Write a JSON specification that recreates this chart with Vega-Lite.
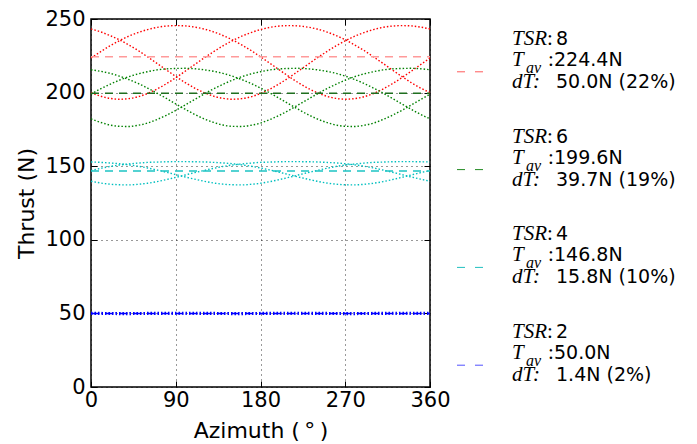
{
"$schema":"https://vega.github.io/schema/vega-lite/v6.json",
"background":"white",
"padding":{"left":15,"top":7,"right":5,"bottom":0},
"bounds":"flush",
"spacing":0,
"datasets":{
"curves":[
{"tsr":8,"blade":1,"az":0,"thrust":223.5},{"tsr":8,"blade":1,"az":10,"thrust":227.7},{"tsr":8,"blade":1,"az":20,"thrust":231.7},{"tsr":8,"blade":1,"az":30,"thrust":235.2},{"tsr":8,"blade":1,"az":40,"thrust":238.3},{"tsr":8,"blade":1,"az":50,"thrust":240.8},{"tsr":8,"blade":1,"az":60,"thrust":242.8},{"tsr":8,"blade":1,"az":70,"thrust":244.3},{"tsr":8,"blade":1,"az":80,"thrust":245.2},{"tsr":8,"blade":1,"az":90,"thrust":245.5},{"tsr":8,"blade":1,"az":100,"thrust":245.3},{"tsr":8,"blade":1,"az":110,"thrust":244.5},{"tsr":8,"blade":1,"az":120,"thrust":243.2},{"tsr":8,"blade":1,"az":130,"thrust":241.3},{"tsr":8,"blade":1,"az":140,"thrust":238.8},{"tsr":8,"blade":1,"az":150,"thrust":235.9},{"tsr":8,"blade":1,"az":160,"thrust":232.4},{"tsr":8,"blade":1,"az":170,"thrust":228.6},{"tsr":8,"blade":1,"az":180,"thrust":224.3},{"tsr":8,"blade":1,"az":190,"thrust":219.9},{"tsr":8,"blade":1,"az":200,"thrust":215.4},{"tsr":8,"blade":1,"az":210,"thrust":211.0},{"tsr":8,"blade":1,"az":220,"thrust":206.8},{"tsr":8,"blade":1,"az":230,"thrust":203.1},{"tsr":8,"blade":1,"az":240,"thrust":200.0},{"tsr":8,"blade":1,"az":250,"thrust":197.6},{"tsr":8,"blade":1,"az":260,"thrust":196.1},{"tsr":8,"blade":1,"az":270,"thrust":195.5},{"tsr":8,"blade":1,"az":280,"thrust":195.9},{"tsr":8,"blade":1,"az":290,"thrust":197.2},{"tsr":8,"blade":1,"az":300,"thrust":199.4},{"tsr":8,"blade":1,"az":310,"thrust":202.4},{"tsr":8,"blade":1,"az":320,"thrust":206.0},{"tsr":8,"blade":1,"az":330,"thrust":210.1},{"tsr":8,"blade":1,"az":340,"thrust":214.5},{"tsr":8,"blade":1,"az":350,"thrust":219.0},{"tsr":8,"blade":1,"az":360,"thrust":223.5},
{"tsr":8,"blade":2,"az":0,"thrust":200.0},{"tsr":8,"blade":2,"az":10,"thrust":197.6},{"tsr":8,"blade":2,"az":20,"thrust":196.1},{"tsr":8,"blade":2,"az":30,"thrust":195.5},{"tsr":8,"blade":2,"az":40,"thrust":195.9},{"tsr":8,"blade":2,"az":50,"thrust":197.2},{"tsr":8,"blade":2,"az":60,"thrust":199.4},{"tsr":8,"blade":2,"az":70,"thrust":202.4},{"tsr":8,"blade":2,"az":80,"thrust":206.0},{"tsr":8,"blade":2,"az":90,"thrust":210.1},{"tsr":8,"blade":2,"az":100,"thrust":214.5},{"tsr":8,"blade":2,"az":110,"thrust":219.0},{"tsr":8,"blade":2,"az":120,"thrust":223.5},{"tsr":8,"blade":2,"az":130,"thrust":227.7},{"tsr":8,"blade":2,"az":140,"thrust":231.7},{"tsr":8,"blade":2,"az":150,"thrust":235.2},{"tsr":8,"blade":2,"az":160,"thrust":238.3},{"tsr":8,"blade":2,"az":170,"thrust":240.8},{"tsr":8,"blade":2,"az":180,"thrust":242.8},{"tsr":8,"blade":2,"az":190,"thrust":244.3},{"tsr":8,"blade":2,"az":200,"thrust":245.2},{"tsr":8,"blade":2,"az":210,"thrust":245.5},{"tsr":8,"blade":2,"az":220,"thrust":245.3},{"tsr":8,"blade":2,"az":230,"thrust":244.5},{"tsr":8,"blade":2,"az":240,"thrust":243.2},{"tsr":8,"blade":2,"az":250,"thrust":241.3},{"tsr":8,"blade":2,"az":260,"thrust":238.8},{"tsr":8,"blade":2,"az":270,"thrust":235.9},{"tsr":8,"blade":2,"az":280,"thrust":232.4},{"tsr":8,"blade":2,"az":290,"thrust":228.6},{"tsr":8,"blade":2,"az":300,"thrust":224.3},{"tsr":8,"blade":2,"az":310,"thrust":219.9},{"tsr":8,"blade":2,"az":320,"thrust":215.4},{"tsr":8,"blade":2,"az":330,"thrust":211.0},{"tsr":8,"blade":2,"az":340,"thrust":206.8},{"tsr":8,"blade":2,"az":350,"thrust":203.1},{"tsr":8,"blade":2,"az":360,"thrust":200.0},
{"tsr":8,"blade":3,"az":0,"thrust":243.2},{"tsr":8,"blade":3,"az":10,"thrust":241.3},{"tsr":8,"blade":3,"az":20,"thrust":238.8},{"tsr":8,"blade":3,"az":30,"thrust":235.9},{"tsr":8,"blade":3,"az":40,"thrust":232.4},{"tsr":8,"blade":3,"az":50,"thrust":228.6},{"tsr":8,"blade":3,"az":60,"thrust":224.3},{"tsr":8,"blade":3,"az":70,"thrust":219.9},{"tsr":8,"blade":3,"az":80,"thrust":215.4},{"tsr":8,"blade":3,"az":90,"thrust":211.0},{"tsr":8,"blade":3,"az":100,"thrust":206.8},{"tsr":8,"blade":3,"az":110,"thrust":203.1},{"tsr":8,"blade":3,"az":120,"thrust":200.0},{"tsr":8,"blade":3,"az":130,"thrust":197.6},{"tsr":8,"blade":3,"az":140,"thrust":196.1},{"tsr":8,"blade":3,"az":150,"thrust":195.5},{"tsr":8,"blade":3,"az":160,"thrust":195.9},{"tsr":8,"blade":3,"az":170,"thrust":197.2},{"tsr":8,"blade":3,"az":180,"thrust":199.4},{"tsr":8,"blade":3,"az":190,"thrust":202.4},{"tsr":8,"blade":3,"az":200,"thrust":206.0},{"tsr":8,"blade":3,"az":210,"thrust":210.1},{"tsr":8,"blade":3,"az":220,"thrust":214.5},{"tsr":8,"blade":3,"az":230,"thrust":219.0},{"tsr":8,"blade":3,"az":240,"thrust":223.5},{"tsr":8,"blade":3,"az":250,"thrust":227.7},{"tsr":8,"blade":3,"az":260,"thrust":231.7},{"tsr":8,"blade":3,"az":270,"thrust":235.2},{"tsr":8,"blade":3,"az":280,"thrust":238.3},{"tsr":8,"blade":3,"az":290,"thrust":240.8},{"tsr":8,"blade":3,"az":300,"thrust":242.8},{"tsr":8,"blade":3,"az":310,"thrust":244.3},{"tsr":8,"blade":3,"az":320,"thrust":245.2},{"tsr":8,"blade":3,"az":330,"thrust":245.5},{"tsr":8,"blade":3,"az":340,"thrust":245.3},{"tsr":8,"blade":3,"az":350,"thrust":244.5},{"tsr":8,"blade":3,"az":360,"thrust":243.2},
{"tsr":6,"blade":1,"az":0,"thrust":199.0},{"tsr":6,"blade":1,"az":10,"thrust":202.5},{"tsr":6,"blade":1,"az":20,"thrust":205.6},{"tsr":6,"blade":1,"az":30,"thrust":208.4},{"tsr":6,"blade":1,"az":40,"thrust":210.8},{"tsr":6,"blade":1,"az":50,"thrust":212.7},{"tsr":6,"blade":1,"az":60,"thrust":214.2},{"tsr":6,"blade":1,"az":70,"thrust":215.4},{"tsr":6,"blade":1,"az":80,"thrust":216.1},{"tsr":6,"blade":1,"az":90,"thrust":216.4},{"tsr":6,"blade":1,"az":100,"thrust":216.5},{"tsr":6,"blade":1,"az":110,"thrust":216.2},{"tsr":6,"blade":1,"az":120,"thrust":215.5},{"tsr":6,"blade":1,"az":130,"thrust":214.5},{"tsr":6,"blade":1,"az":140,"thrust":213.1},{"tsr":6,"blade":1,"az":150,"thrust":211.2},{"tsr":6,"blade":1,"az":160,"thrust":208.9},{"tsr":6,"blade":1,"az":170,"thrust":206.2},{"tsr":6,"blade":1,"az":180,"thrust":203.1},{"tsr":6,"blade":1,"az":190,"thrust":199.7},{"tsr":6,"blade":1,"az":200,"thrust":196.1},{"tsr":6,"blade":1,"az":210,"thrust":192.3},{"tsr":6,"blade":1,"az":220,"thrust":188.7},{"tsr":6,"blade":1,"az":230,"thrust":185.2},{"tsr":6,"blade":1,"az":240,"thrust":182.2},{"tsr":6,"blade":1,"az":250,"thrust":179.8},{"tsr":6,"blade":1,"az":260,"thrust":178.0},{"tsr":6,"blade":1,"az":270,"thrust":177.1},{"tsr":6,"blade":1,"az":280,"thrust":177.0},{"tsr":6,"blade":1,"az":290,"thrust":177.8},{"tsr":6,"blade":1,"az":300,"thrust":179.3},{"tsr":6,"blade":1,"az":310,"thrust":181.7},{"tsr":6,"blade":1,"az":320,"thrust":184.6},{"tsr":6,"blade":1,"az":330,"thrust":187.9},{"tsr":6,"blade":1,"az":340,"thrust":191.6},{"tsr":6,"blade":1,"az":350,"thrust":195.3},{"tsr":6,"blade":1,"az":360,"thrust":199.0},
{"tsr":6,"blade":2,"az":0,"thrust":182.2},{"tsr":6,"blade":2,"az":10,"thrust":179.8},{"tsr":6,"blade":2,"az":20,"thrust":178.0},{"tsr":6,"blade":2,"az":30,"thrust":177.1},{"tsr":6,"blade":2,"az":40,"thrust":177.0},{"tsr":6,"blade":2,"az":50,"thrust":177.8},{"tsr":6,"blade":2,"az":60,"thrust":179.3},{"tsr":6,"blade":2,"az":70,"thrust":181.7},{"tsr":6,"blade":2,"az":80,"thrust":184.6},{"tsr":6,"blade":2,"az":90,"thrust":187.9},{"tsr":6,"blade":2,"az":100,"thrust":191.6},{"tsr":6,"blade":2,"az":110,"thrust":195.3},{"tsr":6,"blade":2,"az":120,"thrust":199.0},{"tsr":6,"blade":2,"az":130,"thrust":202.5},{"tsr":6,"blade":2,"az":140,"thrust":205.6},{"tsr":6,"blade":2,"az":150,"thrust":208.4},{"tsr":6,"blade":2,"az":160,"thrust":210.8},{"tsr":6,"blade":2,"az":170,"thrust":212.7},{"tsr":6,"blade":2,"az":180,"thrust":214.2},{"tsr":6,"blade":2,"az":190,"thrust":215.4},{"tsr":6,"blade":2,"az":200,"thrust":216.1},{"tsr":6,"blade":2,"az":210,"thrust":216.4},{"tsr":6,"blade":2,"az":220,"thrust":216.5},{"tsr":6,"blade":2,"az":230,"thrust":216.2},{"tsr":6,"blade":2,"az":240,"thrust":215.5},{"tsr":6,"blade":2,"az":250,"thrust":214.5},{"tsr":6,"blade":2,"az":260,"thrust":213.1},{"tsr":6,"blade":2,"az":270,"thrust":211.2},{"tsr":6,"blade":2,"az":280,"thrust":208.9},{"tsr":6,"blade":2,"az":290,"thrust":206.2},{"tsr":6,"blade":2,"az":300,"thrust":203.1},{"tsr":6,"blade":2,"az":310,"thrust":199.7},{"tsr":6,"blade":2,"az":320,"thrust":196.1},{"tsr":6,"blade":2,"az":330,"thrust":192.3},{"tsr":6,"blade":2,"az":340,"thrust":188.7},{"tsr":6,"blade":2,"az":350,"thrust":185.2},{"tsr":6,"blade":2,"az":360,"thrust":182.2},
{"tsr":6,"blade":3,"az":0,"thrust":215.5},{"tsr":6,"blade":3,"az":10,"thrust":214.5},{"tsr":6,"blade":3,"az":20,"thrust":213.1},{"tsr":6,"blade":3,"az":30,"thrust":211.2},{"tsr":6,"blade":3,"az":40,"thrust":208.9},{"tsr":6,"blade":3,"az":50,"thrust":206.2},{"tsr":6,"blade":3,"az":60,"thrust":203.1},{"tsr":6,"blade":3,"az":70,"thrust":199.7},{"tsr":6,"blade":3,"az":80,"thrust":196.1},{"tsr":6,"blade":3,"az":90,"thrust":192.3},{"tsr":6,"blade":3,"az":100,"thrust":188.7},{"tsr":6,"blade":3,"az":110,"thrust":185.2},{"tsr":6,"blade":3,"az":120,"thrust":182.2},{"tsr":6,"blade":3,"az":130,"thrust":179.8},{"tsr":6,"blade":3,"az":140,"thrust":178.0},{"tsr":6,"blade":3,"az":150,"thrust":177.1},{"tsr":6,"blade":3,"az":160,"thrust":177.0},{"tsr":6,"blade":3,"az":170,"thrust":177.8},{"tsr":6,"blade":3,"az":180,"thrust":179.3},{"tsr":6,"blade":3,"az":190,"thrust":181.7},{"tsr":6,"blade":3,"az":200,"thrust":184.6},{"tsr":6,"blade":3,"az":210,"thrust":187.9},{"tsr":6,"blade":3,"az":220,"thrust":191.6},{"tsr":6,"blade":3,"az":230,"thrust":195.3},{"tsr":6,"blade":3,"az":240,"thrust":199.0},{"tsr":6,"blade":3,"az":250,"thrust":202.5},{"tsr":6,"blade":3,"az":260,"thrust":205.6},{"tsr":6,"blade":3,"az":270,"thrust":208.4},{"tsr":6,"blade":3,"az":280,"thrust":210.8},{"tsr":6,"blade":3,"az":290,"thrust":212.7},{"tsr":6,"blade":3,"az":300,"thrust":214.2},{"tsr":6,"blade":3,"az":310,"thrust":215.4},{"tsr":6,"blade":3,"az":320,"thrust":216.1},{"tsr":6,"blade":3,"az":330,"thrust":216.4},{"tsr":6,"blade":3,"az":340,"thrust":216.5},{"tsr":6,"blade":3,"az":350,"thrust":216.2},{"tsr":6,"blade":3,"az":360,"thrust":215.5},
{"tsr":4,"blade":1,"az":0,"thrust":147.1},{"tsr":4,"blade":1,"az":10,"thrust":148.5},{"tsr":4,"blade":1,"az":20,"thrust":149.8},{"tsr":4,"blade":1,"az":30,"thrust":150.8},{"tsr":4,"blade":1,"az":40,"thrust":151.5},{"tsr":4,"blade":1,"az":50,"thrust":152.1},{"tsr":4,"blade":1,"az":60,"thrust":152.6},{"tsr":4,"blade":1,"az":70,"thrust":152.8},{"tsr":4,"blade":1,"az":80,"thrust":153.0},{"tsr":4,"blade":1,"az":90,"thrust":153.1},{"tsr":4,"blade":1,"az":100,"thrust":153.1},{"tsr":4,"blade":1,"az":110,"thrust":153.0},{"tsr":4,"blade":1,"az":120,"thrust":152.9},{"tsr":4,"blade":1,"az":130,"thrust":152.6},{"tsr":4,"blade":1,"az":140,"thrust":152.2},{"tsr":4,"blade":1,"az":150,"thrust":151.7},{"tsr":4,"blade":1,"az":160,"thrust":150.9},{"tsr":4,"blade":1,"az":170,"thrust":150.0},{"tsr":4,"blade":1,"az":180,"thrust":148.8},{"tsr":4,"blade":1,"az":190,"thrust":147.4},{"tsr":4,"blade":1,"az":200,"thrust":145.9},{"tsr":4,"blade":1,"az":210,"thrust":144.3},{"tsr":4,"blade":1,"az":220,"thrust":142.7},{"tsr":4,"blade":1,"az":230,"thrust":141.2},{"tsr":4,"blade":1,"az":240,"thrust":139.8},{"tsr":4,"blade":1,"az":250,"thrust":138.6},{"tsr":4,"blade":1,"az":260,"thrust":137.8},{"tsr":4,"blade":1,"az":270,"thrust":137.4},{"tsr":4,"blade":1,"az":280,"thrust":137.3},{"tsr":4,"blade":1,"az":290,"thrust":137.7},{"tsr":4,"blade":1,"az":300,"thrust":138.4},{"tsr":4,"blade":1,"az":310,"thrust":139.5},{"tsr":4,"blade":1,"az":320,"thrust":140.9},{"tsr":4,"blade":1,"az":330,"thrust":142.4},{"tsr":4,"blade":1,"az":340,"thrust":144.0},{"tsr":4,"blade":1,"az":350,"thrust":145.6},{"tsr":4,"blade":1,"az":360,"thrust":147.1},
{"tsr":4,"blade":2,"az":0,"thrust":139.8},{"tsr":4,"blade":2,"az":10,"thrust":138.6},{"tsr":4,"blade":2,"az":20,"thrust":137.8},{"tsr":4,"blade":2,"az":30,"thrust":137.4},{"tsr":4,"blade":2,"az":40,"thrust":137.3},{"tsr":4,"blade":2,"az":50,"thrust":137.7},{"tsr":4,"blade":2,"az":60,"thrust":138.4},{"tsr":4,"blade":2,"az":70,"thrust":139.5},{"tsr":4,"blade":2,"az":80,"thrust":140.9},{"tsr":4,"blade":2,"az":90,"thrust":142.4},{"tsr":4,"blade":2,"az":100,"thrust":144.0},{"tsr":4,"blade":2,"az":110,"thrust":145.6},{"tsr":4,"blade":2,"az":120,"thrust":147.1},{"tsr":4,"blade":2,"az":130,"thrust":148.5},{"tsr":4,"blade":2,"az":140,"thrust":149.8},{"tsr":4,"blade":2,"az":150,"thrust":150.8},{"tsr":4,"blade":2,"az":160,"thrust":151.5},{"tsr":4,"blade":2,"az":170,"thrust":152.1},{"tsr":4,"blade":2,"az":180,"thrust":152.6},{"tsr":4,"blade":2,"az":190,"thrust":152.8},{"tsr":4,"blade":2,"az":200,"thrust":153.0},{"tsr":4,"blade":2,"az":210,"thrust":153.1},{"tsr":4,"blade":2,"az":220,"thrust":153.1},{"tsr":4,"blade":2,"az":230,"thrust":153.0},{"tsr":4,"blade":2,"az":240,"thrust":152.9},{"tsr":4,"blade":2,"az":250,"thrust":152.6},{"tsr":4,"blade":2,"az":260,"thrust":152.2},{"tsr":4,"blade":2,"az":270,"thrust":151.7},{"tsr":4,"blade":2,"az":280,"thrust":150.9},{"tsr":4,"blade":2,"az":290,"thrust":150.0},{"tsr":4,"blade":2,"az":300,"thrust":148.8},{"tsr":4,"blade":2,"az":310,"thrust":147.4},{"tsr":4,"blade":2,"az":320,"thrust":145.9},{"tsr":4,"blade":2,"az":330,"thrust":144.3},{"tsr":4,"blade":2,"az":340,"thrust":142.7},{"tsr":4,"blade":2,"az":350,"thrust":141.2},{"tsr":4,"blade":2,"az":360,"thrust":139.8},
{"tsr":4,"blade":3,"az":0,"thrust":152.9},{"tsr":4,"blade":3,"az":10,"thrust":152.6},{"tsr":4,"blade":3,"az":20,"thrust":152.2},{"tsr":4,"blade":3,"az":30,"thrust":151.7},{"tsr":4,"blade":3,"az":40,"thrust":150.9},{"tsr":4,"blade":3,"az":50,"thrust":150.0},{"tsr":4,"blade":3,"az":60,"thrust":148.8},{"tsr":4,"blade":3,"az":70,"thrust":147.4},{"tsr":4,"blade":3,"az":80,"thrust":145.9},{"tsr":4,"blade":3,"az":90,"thrust":144.3},{"tsr":4,"blade":3,"az":100,"thrust":142.7},{"tsr":4,"blade":3,"az":110,"thrust":141.2},{"tsr":4,"blade":3,"az":120,"thrust":139.8},{"tsr":4,"blade":3,"az":130,"thrust":138.6},{"tsr":4,"blade":3,"az":140,"thrust":137.8},{"tsr":4,"blade":3,"az":150,"thrust":137.4},{"tsr":4,"blade":3,"az":160,"thrust":137.3},{"tsr":4,"blade":3,"az":170,"thrust":137.7},{"tsr":4,"blade":3,"az":180,"thrust":138.4},{"tsr":4,"blade":3,"az":190,"thrust":139.5},{"tsr":4,"blade":3,"az":200,"thrust":140.9},{"tsr":4,"blade":3,"az":210,"thrust":142.4},{"tsr":4,"blade":3,"az":220,"thrust":144.0},{"tsr":4,"blade":3,"az":230,"thrust":145.6},{"tsr":4,"blade":3,"az":240,"thrust":147.1},{"tsr":4,"blade":3,"az":250,"thrust":148.5},{"tsr":4,"blade":3,"az":260,"thrust":149.8},{"tsr":4,"blade":3,"az":270,"thrust":150.8},{"tsr":4,"blade":3,"az":280,"thrust":151.5},{"tsr":4,"blade":3,"az":290,"thrust":152.1},{"tsr":4,"blade":3,"az":300,"thrust":152.6},{"tsr":4,"blade":3,"az":310,"thrust":152.8},{"tsr":4,"blade":3,"az":320,"thrust":153.0},{"tsr":4,"blade":3,"az":330,"thrust":153.1},{"tsr":4,"blade":3,"az":340,"thrust":153.1},{"tsr":4,"blade":3,"az":350,"thrust":153.0},{"tsr":4,"blade":3,"az":360,"thrust":152.9},
{"tsr":2,"blade":1,"az":0,"thrust":49.93},{"tsr":2,"blade":1,"az":10,"thrust":50.05},{"tsr":2,"blade":1,"az":20,"thrust":50.17},{"tsr":2,"blade":1,"az":30,"thrust":50.28},{"tsr":2,"blade":1,"az":40,"thrust":50.39},{"tsr":2,"blade":1,"az":50,"thrust":50.49},{"tsr":2,"blade":1,"az":60,"thrust":50.57},{"tsr":2,"blade":1,"az":70,"thrust":50.63},{"tsr":2,"blade":1,"az":80,"thrust":50.67},{"tsr":2,"blade":1,"az":90,"thrust":50.7},{"tsr":2,"blade":1,"az":100,"thrust":50.7},{"tsr":2,"blade":1,"az":110,"thrust":50.68},{"tsr":2,"blade":1,"az":120,"thrust":50.64},{"tsr":2,"blade":1,"az":130,"thrust":50.58},{"tsr":2,"blade":1,"az":140,"thrust":50.5},{"tsr":2,"blade":1,"az":150,"thrust":50.41},{"tsr":2,"blade":1,"az":160,"thrust":50.31},{"tsr":2,"blade":1,"az":170,"thrust":50.19},{"tsr":2,"blade":1,"az":180,"thrust":50.07},{"tsr":2,"blade":1,"az":190,"thrust":49.95},{"tsr":2,"blade":1,"az":200,"thrust":49.83},{"tsr":2,"blade":1,"az":210,"thrust":49.72},{"tsr":2,"blade":1,"az":220,"thrust":49.61},{"tsr":2,"blade":1,"az":230,"thrust":49.51},{"tsr":2,"blade":1,"az":240,"thrust":49.43},{"tsr":2,"blade":1,"az":250,"thrust":49.37},{"tsr":2,"blade":1,"az":260,"thrust":49.33},{"tsr":2,"blade":1,"az":270,"thrust":49.3},{"tsr":2,"blade":1,"az":280,"thrust":49.3},{"tsr":2,"blade":1,"az":290,"thrust":49.32},{"tsr":2,"blade":1,"az":300,"thrust":49.36},{"tsr":2,"blade":1,"az":310,"thrust":49.42},{"tsr":2,"blade":1,"az":320,"thrust":49.5},{"tsr":2,"blade":1,"az":330,"thrust":49.59},{"tsr":2,"blade":1,"az":340,"thrust":49.69},{"tsr":2,"blade":1,"az":350,"thrust":49.81},{"tsr":2,"blade":1,"az":360,"thrust":49.93},
{"tsr":2,"blade":2,"az":0,"thrust":49.43},{"tsr":2,"blade":2,"az":10,"thrust":49.37},{"tsr":2,"blade":2,"az":20,"thrust":49.33},{"tsr":2,"blade":2,"az":30,"thrust":49.3},{"tsr":2,"blade":2,"az":40,"thrust":49.3},{"tsr":2,"blade":2,"az":50,"thrust":49.32},{"tsr":2,"blade":2,"az":60,"thrust":49.36},{"tsr":2,"blade":2,"az":70,"thrust":49.42},{"tsr":2,"blade":2,"az":80,"thrust":49.5},{"tsr":2,"blade":2,"az":90,"thrust":49.59},{"tsr":2,"blade":2,"az":100,"thrust":49.69},{"tsr":2,"blade":2,"az":110,"thrust":49.81},{"tsr":2,"blade":2,"az":120,"thrust":49.93},{"tsr":2,"blade":2,"az":130,"thrust":50.05},{"tsr":2,"blade":2,"az":140,"thrust":50.17},{"tsr":2,"blade":2,"az":150,"thrust":50.28},{"tsr":2,"blade":2,"az":160,"thrust":50.39},{"tsr":2,"blade":2,"az":170,"thrust":50.49},{"tsr":2,"blade":2,"az":180,"thrust":50.57},{"tsr":2,"blade":2,"az":190,"thrust":50.63},{"tsr":2,"blade":2,"az":200,"thrust":50.67},{"tsr":2,"blade":2,"az":210,"thrust":50.7},{"tsr":2,"blade":2,"az":220,"thrust":50.7},{"tsr":2,"blade":2,"az":230,"thrust":50.68},{"tsr":2,"blade":2,"az":240,"thrust":50.64},{"tsr":2,"blade":2,"az":250,"thrust":50.58},{"tsr":2,"blade":2,"az":260,"thrust":50.5},{"tsr":2,"blade":2,"az":270,"thrust":50.41},{"tsr":2,"blade":2,"az":280,"thrust":50.31},{"tsr":2,"blade":2,"az":290,"thrust":50.19},{"tsr":2,"blade":2,"az":300,"thrust":50.07},{"tsr":2,"blade":2,"az":310,"thrust":49.95},{"tsr":2,"blade":2,"az":320,"thrust":49.83},{"tsr":2,"blade":2,"az":330,"thrust":49.72},{"tsr":2,"blade":2,"az":340,"thrust":49.61},{"tsr":2,"blade":2,"az":350,"thrust":49.51},{"tsr":2,"blade":2,"az":360,"thrust":49.43},
{"tsr":2,"blade":3,"az":0,"thrust":50.64},{"tsr":2,"blade":3,"az":10,"thrust":50.58},{"tsr":2,"blade":3,"az":20,"thrust":50.5},{"tsr":2,"blade":3,"az":30,"thrust":50.41},{"tsr":2,"blade":3,"az":40,"thrust":50.31},{"tsr":2,"blade":3,"az":50,"thrust":50.19},{"tsr":2,"blade":3,"az":60,"thrust":50.07},{"tsr":2,"blade":3,"az":70,"thrust":49.95},{"tsr":2,"blade":3,"az":80,"thrust":49.83},{"tsr":2,"blade":3,"az":90,"thrust":49.72},{"tsr":2,"blade":3,"az":100,"thrust":49.61},{"tsr":2,"blade":3,"az":110,"thrust":49.51},{"tsr":2,"blade":3,"az":120,"thrust":49.43},{"tsr":2,"blade":3,"az":130,"thrust":49.37},{"tsr":2,"blade":3,"az":140,"thrust":49.33},{"tsr":2,"blade":3,"az":150,"thrust":49.3},{"tsr":2,"blade":3,"az":160,"thrust":49.3},{"tsr":2,"blade":3,"az":170,"thrust":49.32},{"tsr":2,"blade":3,"az":180,"thrust":49.36},{"tsr":2,"blade":3,"az":190,"thrust":49.42},{"tsr":2,"blade":3,"az":200,"thrust":49.5},{"tsr":2,"blade":3,"az":210,"thrust":49.59},{"tsr":2,"blade":3,"az":220,"thrust":49.69},{"tsr":2,"blade":3,"az":230,"thrust":49.81},{"tsr":2,"blade":3,"az":240,"thrust":49.93},{"tsr":2,"blade":3,"az":250,"thrust":50.05},{"tsr":2,"blade":3,"az":260,"thrust":50.17},{"tsr":2,"blade":3,"az":270,"thrust":50.28},{"tsr":2,"blade":3,"az":280,"thrust":50.39},{"tsr":2,"blade":3,"az":290,"thrust":50.49},{"tsr":2,"blade":3,"az":300,"thrust":50.57},{"tsr":2,"blade":3,"az":310,"thrust":50.63},{"tsr":2,"blade":3,"az":320,"thrust":50.67},{"tsr":2,"blade":3,"az":330,"thrust":50.7},{"tsr":2,"blade":3,"az":340,"thrust":50.7},{"tsr":2,"blade":3,"az":350,"thrust":50.68},{"tsr":2,"blade":3,"az":360,"thrust":50.64}
],
"avg":[{"tsr":8,"avg":224.4},{"tsr":6,"avg":199.6},{"tsr":4,"avg":146.8},{"tsr":2,"avg":50.0}],
"entries":[{"tsr":8,"tav":"224.4N","dt":"50.0N (22%)"},{"tsr":6,"tav":"199.6N","dt":"39.7N (19%)"},{"tsr":4,"tav":"146.8N","dt":"15.8N (10%)"},{"tsr":2,"tav":"50.0N","dt":"1.4N (2%)"}]
},
"hconcat":[
{
"width":339,"height":368,
"view":{"stroke":"#000","strokeWidth":1.5},
"layer":[
{"data":{"name":"curves"},
"mark":{"type":"line","strokeDash":[1.5,2],"strokeWidth":1.4,"interpolate":"monotone"},
"encoding":{
"x":{"field":"az","type":"quantitative","scale":{"domain":[0,360],"nice":false},"axis":{"values":[0,90,180,270,360],"title":"Azimuth (\u2009°\u2009)","labelPadding":8,"titlePadding":10}},
"y":{"field":"thrust","type":"quantitative","scale":{"domain":[0,250],"nice":false},"axis":{"values":[0,50,100,150,200,250],"title":"Thrust (N)","titlePadding":6}},
"color":{"field":"tsr","type":"nominal","scale":{"domain":[8,6,4,2],"range":["#ff0000","#008000","#00bfbf","#0000ff"]},"legend":null},
"detail":{"field":"blade","type":"nominal"}
}},
{"data":{"name":"avg"},
"mark":{"type":"rule","strokeDash":[8,6],"strokeWidth":1.5},
"encoding":{
"x":{"datum":0,"type":"quantitative","axis":{"orient":"top","labels":false,"grid":false,"title":null,"values":[0,90,180,270,360]}},
"x2":{"datum":360},
"y":{"field":"avg","type":"quantitative","axis":{"orient":"right","labels":false,"grid":false,"title":null,"values":[0,50,100,150,200,250]}},
"color":{"field":"tsr","type":"nominal","scale":{"domain":[8,6,4,2],"range":["#ff9a9a","#1f6f1f","#1cc4c4","#0000ff"]},"legend":null}
}}
],
"resolve":{"axis":{"x":"independent","y":"independent"},"scale":{"color":"independent"}}
},
{
"width":261,"height":399,
"view":{"stroke":null},
"data":{"name":"entries"},
"encoding":{"y":{"field":"tsr","type":"ordinal","scale":{"type":"point","domain":[8,6,4,2],"padding":0.54},"axis":null}},
"layer":[
{"mark":{"type":"rule","strokeDash":[8,10],"strokeWidth":1},
"encoding":{"x":{"datum":27,"type":"quantitative","scale":{"domain":[0,261],"nice":false,"zero":false},"axis":null},"x2":{"datum":55},
"color":{"field":"tsr","type":"nominal","scale":{"domain":[8,6,4,2],"range":["#ff5a5a","#228b22","#20c0c0","#5050ff"]},"legend":null}}},
{"mark":{"type":"text","text":"TSR","font":"Liberation Serif","fontStyle":"italic","fontSize":21,"align":"left","baseline":"middle","dy":-33,"color":"#000"},"encoding":{"x":{"datum":82,"type":"quantitative"}}},
{"mark":{"type":"text","text":":","font":"Liberation Serif","fontSize":21,"align":"left","baseline":"middle","dy":-33,"color":"#000"},"encoding":{"x":{"datum":117,"type":"quantitative"}}},
{"mark":{"type":"text","font":"DejaVu Sans","fontSize":19,"align":"left","baseline":"middle","dy":-33,"color":"#000"},"encoding":{"x":{"datum":126,"type":"quantitative"},"text":{"field":"tsr"}}},
{"mark":{"type":"text","text":"T","font":"Liberation Serif","fontStyle":"italic","fontSize":21,"align":"left","baseline":"middle","dy":-12,"color":"#000"},"encoding":{"x":{"datum":82,"type":"quantitative"}}},
{"mark":{"type":"text","text":"av","font":"Liberation Serif","fontStyle":"italic","fontSize":16,"align":"left","baseline":"middle","dy":-4,"color":"#000"},"encoding":{"x":{"datum":96,"type":"quantitative"}}},
{"mark":{"type":"text","text":":","font":"Liberation Serif","fontSize":21,"align":"left","baseline":"middle","dy":-12,"color":"#000"},"encoding":{"x":{"datum":118,"type":"quantitative"}}},
{"mark":{"type":"text","font":"DejaVu Sans","fontSize":19,"align":"left","baseline":"middle","dy":-12,"color":"#000"},"encoding":{"x":{"datum":124,"type":"quantitative"},"text":{"field":"tav"}}},
{"mark":{"type":"text","text":"dT:","font":"Liberation Serif","fontStyle":"italic","fontSize":21,"align":"left","baseline":"middle","dy":10,"color":"#000"},"encoding":{"x":{"datum":82,"type":"quantitative"}}},
{"mark":{"type":"text","font":"DejaVu Sans","fontSize":19,"align":"left","baseline":"middle","dy":10,"color":"#000"},"encoding":{"x":{"datum":126,"type":"quantitative"},"text":{"field":"dt"}}}
]
}
],
"config":{
"font":"DejaVu Sans",
"view":{"stroke":null},
"axis":{"labelFont":"DejaVu Sans","labelFontSize":21,"labelColor":"#000","labelFlush":false,"titleFont":"DejaVu Sans","titleFontSize":22,"titleFontWeight":"normal","titleColor":"#000","tickColor":"#000","tickSize":-6,"tickWidth":1,"domain":false,"grid":true,"gridColor":"#000","gridDash":[1,4],"gridWidth":1,"gridOpacity":0.8,"labelPadding":12}
}
}
